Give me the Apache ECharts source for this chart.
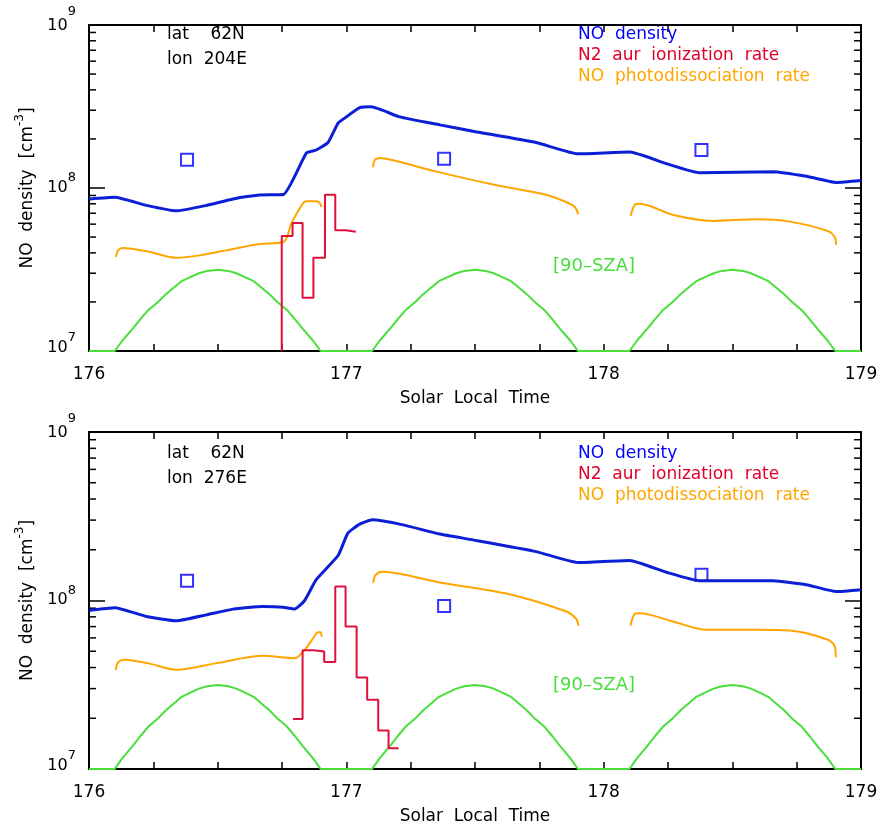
<!DOCTYPE html>
<html>
<head>
<meta charset="utf-8">
<script src="https://cdn.jsdelivr.net/npm/echarts@6/dist/echarts.min.js"></script>
<style>
  body { margin: 0; background: #fff; }
  #chart { width: 881px; height: 828px; }
</style>
</head>
<body>
<div id="chart"></div>
<script>
// [90-SZA] curve, same in both panels (same latitude)
const szaTime = [176.00,
  176.10, 176.13, 176.17, 176.20, 176.23, 176.27, 176.30, 176.33, 176.36, 176.40, 176.43, 176.46, 176.50,
  176.54, 176.57, 176.60, 176.64, 176.67, 176.70, 176.73, 176.77, 176.80, 176.83, 176.87, 176.90,
  177.10, 177.13, 177.17, 177.20, 177.23, 177.27, 177.30, 177.33, 177.36, 177.40, 177.43, 177.46, 177.50,
  177.54, 177.57, 177.60, 177.64, 177.67, 177.70, 177.73, 177.77, 177.80, 177.83, 177.87, 177.90,
  178.10, 178.13, 178.17, 178.20, 178.23, 178.27, 178.30, 178.33, 178.36, 178.40, 178.43, 178.46, 178.50,
  178.54, 178.57, 178.60, 178.64, 178.67, 178.70, 178.73, 178.77, 178.80, 178.83, 178.87, 178.90,
  179.00];
const szaVal = [1.0e7,
  1.0e7, 1.16e7, 1.37e7, 1.57e7, 1.78e7, 2.01e7, 2.24e7, 2.45e7, 2.68e7, 2.87e7, 3.01e7, 3.10e7, 3.15e7,
  3.10e7, 3.01e7, 2.87e7, 2.68e7, 2.45e7, 2.24e7, 2.01e7, 1.78e7, 1.57e7, 1.37e7, 1.16e7, 1.0e7,
  1.0e7, 1.16e7, 1.37e7, 1.57e7, 1.78e7, 2.01e7, 2.24e7, 2.45e7, 2.68e7, 2.87e7, 3.01e7, 3.10e7, 3.15e7,
  3.10e7, 3.01e7, 2.87e7, 2.68e7, 2.45e7, 2.24e7, 2.01e7, 1.78e7, 1.57e7, 1.37e7, 1.16e7, 1.0e7,
  1.0e7, 1.16e7, 1.37e7, 1.57e7, 1.78e7, 2.01e7, 2.24e7, 2.45e7, 2.68e7, 2.87e7, 3.01e7, 3.10e7, 3.15e7,
  3.10e7, 3.01e7, 2.87e7, 2.68e7, 2.45e7, 2.24e7, 2.01e7, 1.78e7, 1.57e7, 1.37e7, 1.16e7, 1.0e7,
  1.0e7];

// observed NO density (squares)
const obsTime = [176.381, 177.380, 178.380];

// panel A: lat 62N lon 204E
const densTimeA = [176.0, 176.1, 176.223, 176.339, 176.456, 176.56, 176.663, 176.756, 176.845, 176.883,
  176.929, 176.968, 177.0, 177.052, 177.097, 177.207, 177.363, 177.492, 177.738, 177.900, 178.101,
  178.244, 178.373, 178.658, 178.788, 178.904, 179.0];
const densValA = [8.57e7, 8.77e7, 7.82e7, 7.24e7, 7.82e7, 8.57e7, 9.06e7, 9.13e7, 1.64e8, 1.71e8,
  1.90e8, 2.50e8, 2.73e8, 3.11e8, 3.15e8, 2.73e8, 2.44e8, 2.23e8, 1.90e8, 1.62e8, 1.66e8,
  1.41e8, 1.24e8, 1.26e8, 1.18e8, 1.08e8, 1.11e8];
const obsValA = [1.49e8, 1.51e8, 1.71e8];
const aurTimeA = [176.749, 176.749, 176.791, 176.830, 176.872, 176.917, 176.957, 176.998, 177.037];
const aurValA = [1.0e7, 5.07e7, 6.09e7, 2.12e7, 3.73e7, 9.09e7, 5.51e7, 5.39e7, 5.39e7];
const photTimeA = [176.104, 176.113, 176.132, 176.236, 176.340, 176.430, 176.560, 176.664, 176.757,
  176.787, 176.832, 176.845, 176.884, 176.897, 176.904, 177.0,
  177.104, 177.110, 177.130, 177.182, 177.351, 177.571, 177.765, 177.856, 177.888, 177.901, 178.0,
  178.105, 178.122, 178.141, 178.271, 178.426, 178.595, 178.724, 178.873, 178.899, 178.903];
const photValA = [3.78e7, 4.14e7, 4.28e7, 4.05e7, 3.73e7, 3.86e7, 4.23e7, 4.53e7, 4.68e7,
  6.09e7, 8.07e7, 8.30e7, 8.30e7, 8.07e7, 7.64e7, null,
  1.34e8, 1.48e8, 1.53e8, 1.48e8, 1.26e8, 1.05e8, 9.18e7, 8.18e7, 7.64e7, 6.89e7, null,
  6.76e7, 7.93e7, 8.0e7, 6.82e7, 6.28e7, 6.43e7, 6.22e7, 5.43e7, 4.96e7, 4.49e7];

// panel B: lat 62N lon 276E
const densTimeB = [176.0, 176.1, 176.223, 176.339, 176.456, 176.56, 176.676, 176.754, 176.799, 176.838,
  176.883, 176.968, 177.006, 177.052, 177.101, 177.220, 177.363, 177.492, 177.738, 177.900, 178.101,
  178.244, 178.373, 178.658, 178.788, 178.904, 179.0];
const densValB = [8.73e7, 9.06e7, 8.04e7, 7.57e7, 8.22e7, 8.89e7, 9.21e7, 9.13e7, 8.89e7, 1.0e8,
  1.33e8, 1.85e8, 2.51e8, 2.84e8, 3.01e8, 2.81e8, 2.48e8, 2.29e8, 1.95e8, 1.68e8, 1.73e8,
  1.47e8, 1.31e8, 1.31e8, 1.24e8, 1.13e8, 1.16e8];
const obsValB = [1.31e8, 9.29e7, 1.42e8];
const aurTimeB = [176.793, 176.830, 176.873, 176.914, 176.957, 176.997, 177.040, 177.081, 177.124,
  177.164, 177.203];
const aurValB = [1.98e7, 5.07e7, 4.98e7, 4.32e7, 1.21e8, 7.0e7, 3.49e7, 2.58e7, 1.69e7, 1.33e7, 1.33e7];
const photTimeB = [176.104, 176.113, 176.139, 176.236, 176.339, 176.495, 176.676, 176.799, 176.838,
  176.871, 176.890, 176.900, 176.904, 177.0,
  177.104, 177.114, 177.142, 177.207, 177.363, 177.622, 177.855, 177.894, 177.902, 178.0,
  178.104, 178.121, 178.140, 178.269, 178.399, 178.593, 178.723, 178.872, 178.898, 178.902];
const photValB = [3.88e7, 4.29e7, 4.45e7, 4.22e7, 3.88e7, 4.25e7, 4.70e7, 4.55e7, 5.09e7,
  5.97e7, 6.48e7, 6.48e7, 6.1e7, null,
  1.27e8, 1.42e8, 1.48e8, 1.44e8, 1.28e8, 1.10e8, 8.60e7, 7.75e7, 7.08e7, null,
  7.08e7, 8.34e7, 8.41e7, 7.51e7, 6.70e7, 6.70e7, 6.64e7, 5.85e7, 5.34e7, 4.61e7];

const minorTicks = [2e7, 3e7, 4e7, 5e7, 6e7, 7e7, 8e7, 9e7, 2e8, 3e8, 4e8, 5e8, 6e8, 7e8, 8e8, 9e8];

const panels = [
  { lon: '204E', dens: [densTimeA, densValA], obs: obsValA, aur: [aurTimeA, aurValA], phot: [photTimeA, photValA] },
  { lon: '276E', dens: [densTimeB, densValB], obs: obsValB, aur: [aurTimeB, aurValB], phot: [photTimeB, photValB] }
];

const FONT = 'DejaVu Sans';
const C_BLUE = '#0b1fd6';
const C_RED = '#e0103c';
const C_ORANGE = '#ffa500';
const C_GREEN = '#4ade3a';
const gridTops = [13, 432];
const gridHeights = [338, 337];

const zip = (xs, ys) => xs.map((x, i) => [x, ys[i] == null ? '-' : ys[i]]);
const axisLine = { onZero: false, lineStyle: { color: '#000', width: 2 } };
const tickStyle = { color: '#000', width: 1.5 };

// tick label "10^n", shifted per exponent like the original
const yRich = {
  b9: { fontSize: 16, lineHeight: 16, padding: [17.4, 0, 16.6, 0] },
  s9: { fontSize: 13, lineHeight: 14, padding: [5.1, 0, 30.9, 0] },
  b8: { fontSize: 16, lineHeight: 16, padding: [16.7, 0, 17.3, 0] },
  s8: { fontSize: 13, lineHeight: 14, padding: [7.8, 0, 28.2, 0] },
  b7: { fontSize: 16, lineHeight: 16, padding: [13.8, 0, 20.2, 0] },
  s7: { fontSize: 13, lineHeight: 14, padding: [4.7, 0, 31.3, 0] }
};

const xAxis = [], yAxis = [], series = [], graphic = [];

panels.forEach((p, g) => {
  xAxis.push({
    type: 'value', gridIndex: g, min: 176, max: 179, interval: 0.25, position: 'bottom',
    name: 'Solar  Local  Time', nameLocation: 'middle', nameGap: 39,
    nameTextStyle: { fontSize: 17, color: '#000', fontFamily: FONT },
    axisLine, axisTick: { inside: true, length: 7, lineStyle: tickStyle },
    axisLabel: {
      margin: 15, fontSize: 17, color: '#000', fontFamily: FONT,
      formatter: v => (Math.abs(v - Math.round(v)) < 1e-6 ? String(Math.round(v)) : '')
    },
    splitLine: { show: false }
  });
  xAxis.push({
    type: 'value', gridIndex: g, min: 176, max: 179, interval: 0.25, position: 'top',
    axisLine, axisTick: { inside: true, length: 7, lineStyle: tickStyle },
    axisLabel: { show: false }, splitLine: { show: false }
  });
  yAxis.push({
    type: 'log', logBase: 10, gridIndex: g, min: 1e7, max: 1e9, position: 'left',
    name: '{n|NO  density  [cm}{sup|-3}{n|]}', nameLocation: 'middle', nameGap: 54, nameRotate: 90,
    nameTextStyle: {
      color: '#000', fontFamily: FONT,
      rich: {
        n: { fontSize: 17, lineHeight: 17, padding: [6, 0, 0, 0], fontFamily: FONT },
        sup: { fontSize: 12, lineHeight: 12, padding: [0, 0, 11, 0], fontFamily: FONT }
      }
    },
    axisLine, axisTick: { inside: true, length: 16, lineStyle: tickStyle },
    axisLabel: {
      margin: 13, color: '#000', fontFamily: FONT, rich: yRich,
      formatter: v => {
        const e = Math.round(Math.log10(v));
        return '{b' + e + '|10}{s' + e + '|' + e + '}';
      }
    },
    splitLine: { show: false }
  });
  yAxis.push({
    type: 'log', logBase: 10, gridIndex: g, min: 1e7, max: 1e9, position: 'right',
    axisLine, axisTick: { inside: true, length: 16, lineStyle: tickStyle },
    axisLabel: { show: false }, splitLine: { show: false }
  });

  const ax = { xAxisIndex: 2 * g, yAxisIndex: 2 * g };
  series.push(
    {
      type: 'custom', ...ax, silent: true, clip: false,
      data: minorTicks.map(v => [176, v]),
      renderItem: (params, api) => {
        const v = api.value(1);
        const l = api.coord([176, v]);
        const r = api.coord([179, v]);
        return {
          type: 'group', children: [
            { type: 'line', shape: { x1: l[0], y1: l[1], x2: l[0] + 7, y2: l[1] }, style: { stroke: '#000', lineWidth: 1.5 } },
            { type: 'line', shape: { x1: r[0] - 7, y1: r[1], x2: r[0], y2: r[1] }, style: { stroke: '#000', lineWidth: 1.5 } }
          ]
        };
      }
    },
    {
      type: 'line', ...ax, data: zip(szaTime, szaVal), symbol: 'none', clip: false,
      lineStyle: { color: C_GREEN, width: 2 }
    },
    {
      type: 'line', ...ax, data: zip(p.phot[0], p.phot[1]), symbol: 'none', smooth: 0.3,
      connectNulls: false, lineStyle: { color: C_ORANGE, width: 2 }
    },
    {
      type: 'line', ...ax, data: zip(p.dens[0], p.dens[1]), symbol: 'none', smooth: 0.15,
      lineStyle: { color: C_BLUE, width: 3 }
    },
    {
      type: 'line', ...ax, data: zip(p.aur[0], p.aur[1]), symbol: 'none', step: 'end', clip: false,
      lineStyle: { color: C_RED, width: 2 }
    },
    {
      type: 'scatter', ...ax, data: zip(obsTime, p.obs), symbol: 'rect', symbolSize: 12,
      itemStyle: { color: 'rgba(0,0,0,0)', borderColor: '#0000ff', borderWidth: 2 }
    }
  );

  const top = gridTops[g];
  const txt = (x, y, text, fill, size) => ({
    type: 'text', x, y, silent: true,
    style: { text, fill, fontSize: size || 17, fontFamily: FONT, verticalAlign: 'middle', align: 'left' }
  });
  graphic.push(
    txt(167, top + 21.5, 'lat    62N', '#000'),
    txt(167, top + 47, 'lon  ' + p.lon, '#000'),
    txt(578, top + 21.5, 'NO  density', '#0000ff'),
    txt(578, top + 42.3, 'N2  aur  ionization  rate', '#e0002a'),
    txt(578, top + 63.3, 'NO  photodissociation  rate', C_ORANGE),
    txt(553, top + 253.5, '[90–SZA]', C_GREEN, 18)
  );
});

const chart = echarts.init(document.getElementById('chart'));
chart.setOption({
  animation: false,
  backgroundColor: '#fff',
  textStyle: { fontFamily: FONT },
  grid: [
    { left: 89, top: gridTops[0], width: 772, height: gridHeights[0] },
    { left: 89, top: gridTops[1], width: 772, height: gridHeights[1] }
  ],
  xAxis, yAxis, series, graphic
});
</script>
</body>
</html>
